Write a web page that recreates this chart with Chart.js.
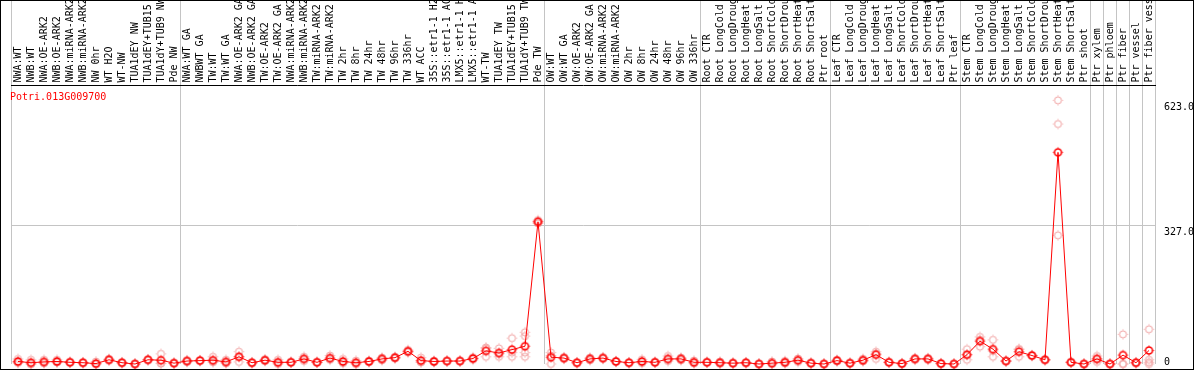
<!DOCTYPE html>
<html lang="en">
<head>
<meta charset="UTF-8">
<title>Potri.013G009700 expression</title>
<script src="https://cdn.jsdelivr.net/npm/chart.js"></script>
<style>
  html, body { margin: 0; padding: 0; background: #fff; }
</style>
</head>
<body>
<canvas id="exprChart" width="1194" height="370"></canvas>
<script>
// gene shown in the plot
const geneName = 'Potri.013G009700';

// sample names, left to right
const samples = [
  'NWA:WT', 'NWB:WT', 'NWA:OE-ARK2', 'NWB:OE-ARK2', 'NWA:miRNA-ARK2', 'NWB:miRNA-ARK2', 'NW 0hr', 'WT H2O', 'WT-NW',
  'TUA1dEY NW', 'TUA1dEY+TUB15 NW', 'TUA1dY+TUB9 NW', 'Pde NW',
  'NWA:WT GA', 'NWBWT GA', 'TW:WT', 'TW:WT GA', 'NWA:OE-ARK2 GA', 'NWB:OE-ARK2 GA', 'TW:OE-ARK2', 'TW:OE-ARK2 GA',
  'NWA:miRNA-ARK2', 'NWB:miRNA-ARK2', 'TW:miRNA-ARK2', 'TW:miRNA-ARK2', 'TW 2hr', 'TW 8hr', 'TW 24hr', 'TW 48hr',
  'TW 96hr', 'TW 336hr', 'WT ACC', '35S::etr1-1 H2O', '35S::etr1-1 ACC', 'LMX5::etr1-1 H2O', 'LMX5::etr1-1 ACC',
  'WT-TW', 'TUA1dEY TW', 'TUA1dEY+TUB15 TW', 'TUA1dY+TUB9 TW', 'Pde TW',
  'OW:WT', 'OW:WT GA', 'OW:OE-ARK2', 'OW:OE-ARK2 GA', 'OW:miRNA-ARK2', 'OW:miRNA-ARK2', 'OW 2hr', 'OW 8hr',
  'OW 24hr', 'OW 48hr', 'OW 96hr', 'OW 336hr',
  'Root CTR', 'Root LongCold', 'Root LongDrought', 'Root LongHeat', 'Root LongSalt', 'Root ShortCold',
  'Root ShortDrought', 'Root ShortHeat', 'Root ShortSalt', 'Ptr root',
  'Leaf CTR', 'Leaf LongCold', 'Leaf LongDrought', 'Leaf LongHeat', 'Leaf LongSalt', 'Leaf ShortCold',
  'Leaf ShortDrought', 'Leaf ShortHeat', 'Leaf ShortSalt', 'Ptr leaf',
  'Stem CTR', 'Stem LongCold', 'Stem LongDrought', 'Stem LongHeat', 'Stem LongSalt', 'Stem ShortCold',
  'Stem ShortDrought', 'Stem ShortHeat', 'Stem ShortSalt', 'Ptr shoot',
  'Ptr xylem', 'Ptr phloem', 'Ptr fiber', 'Ptr vessel', 'Ptr fiber vessel'
];

// mean expression per sample
const meanExpr = [
  6, 3, 5, 6, 4, 3, 1, 10, 3, 0,
  10, 9, 2, 7, 8, 9, 5, 17, 3, 9,
  4, 4, 12, 4, 14, 6, 3, 6, 12, 15,
  30, 8, 6, 7, 7, 13, 31, 26, 34, 42,
  336, 16, 14, 3, 12, 14, 6, 3, 6, 4,
  12, 12, 4, 4, 3, 2, 3, 0, 2, 4,
  9, 2, 0, 8, 2, 9, 22, 4, 1, 12,
  12, 1, 0, 22, 54, 35, 7, 29, 20, 10,
  500, 4, 0, 12, 0, 21, 3, 32
];

// replicate values (null = no replicate)
const rep1 = [
  12, 10, 10, 10, 5, 4, 6, 12, 4, 1,
  11, 24, 3, 9, 9, 17, 10, 29, 4, 11,
  10, 5, 17, 5, 20, 12, 8, 8, 15, 17,
  33, 15, 8, 8, 8, 16, 37, 37, 61, 75,
  340, 27, 16, 4, 15, 16, 7, 4, 11, 5,
  19, 15, 8, 5, 6, 3, 4, 1, 6, 7,
  13, 3, 1, 10, 3, 12, 29, 5, 2, 14,
  14, 2, 1, 35, 57, 57, 8, 35, 21, 11,
  623, 5, 1, 19, 1, 70, 4, 82
];
const rep2 = [
  3, 0, 3, 4, 4, 3, 0, 10, 3, 0,
  10, 2, 2, 7, 8, 6, 3, 17, 3, 9,
  2, 4, 12, 4, 12, 4, 1, 6, 12, 15,
  30, 5, 6, 7, 7, 13, 39, 24, 27, 66,
  336, 20, 14, 3, 12, 14, 6, 3, 5, 4,
  10, 12, 3, 4, 2, 2, 3, 0, 1, 4,
  9, 2, 0, 8, 2, 9, 25, 4, 1, 12,
  12, 1, 0, 22, 64, 31, 7, 35, 20, 10,
  567, 4, 0, 12, 0, 0, 3, 10
];
const rep3 = [
  3, 0, 2, 4, 3, 2, 0, 8, 2, 0,
  9, 1, 1, 5, 7, 4, 2, 5, 2, 7,
  0, 3, 7, 3, 10, 2, 0, 4, 9, 13,
  27, 4, 4, 6, 6, 10, 17, 17, 17, 27,
  332, 0, 12, 2, 9, 12, 5, 2, 2, 3,
  7, 9, 1, 3, 1, 1, 2, 0, 0, 1,
  5, 1, 0, 6, 1, 6, 12, 3, 0, 10,
  10, 0, 0, 10, 41, 17, 6, 17, 19, 9,
  304, 3, 0, 5, 0, 0, 2, 4
];
const rep4 = [
  null, null, null, null, null, null, null, null, null, null,
  null, null, null, null, null, null, null, null, null, null,
  null, null, null, null, null, null, null, null, null, null,
  null, null, null, null, null, null, null, null, null, 17,
  null, null, null, null, null, null, null, null, null, null,
  null, null, null, null, null, null, null, null, null, null,
  null, null, null, null, null, null, null, null, null, null,
  null, null, null, null, null, null, null, null, null, null,
  null, null, null, null, null, null, null, 0
];

// labelled values on the right axis
const yTickValues = [0, 327, 623];
const yTickLabels = ['0', '327.0', '623.0'];

// grid line index where a new tissue group starts
const groupBreaks = [0, 13, 41, 53, 63, 73, 83, 84, 85, 86, 87, 88];

const monoFont = 'DejaVu Sans Mono';
const lineGrey = '#c4c4c4';

// hollow circle with four small nubs, like the original markers
function makeMarker(color, width) {
  const c = document.createElement('canvas');
  c.width = 13;
  c.height = 13;
  const g = c.getContext('2d');
  g.strokeStyle = color;
  g.lineWidth = width;
  g.beginPath();
  g.arc(6.5, 6.5, 3.5, 0, Math.PI * 2);
  g.stroke();
  g.lineWidth = 1;
  g.beginPath();
  g.moveTo(6.5, 1.5); g.lineTo(6.5, 2.5);
  g.moveTo(6.5, 10.5); g.lineTo(6.5, 11.5);
  g.moveTo(1.5, 6.5); g.lineTo(2.5, 6.5);
  g.moveTo(10.5, 6.5); g.lineTo(11.5, 6.5);
  g.stroke();
  return c;
}

const meanMarker = makeMarker('#ff0000', 1.6);
const repMarker = makeMarker('#f0a0a0', 1);

function repDataset(values) {
  return {
    data: values,
    showLine: false,
    pointStyle: repMarker,
    pointRadius: 5,
    borderColor: '#f0a0a0',
    backgroundColor: 'transparent'
  };
}

// frame, gene name and y labels
const decorations = {
  id: 'decorations',
  afterDraw(chart) {
    const ctx = chart.ctx;
    const yScale = chart.scales.y;
    ctx.save();
    ctx.font = '10px "' + monoFont + '"';
    ctx.textAlign = 'left';
    ctx.textBaseline = 'middle';

    ctx.fillStyle = '#ff0000';
    ctx.fillText(geneName, 10, chart.chartArea.top + 12);

    ctx.fillStyle = '#000';
    yTickValues.forEach((v, i) => {
      const py = yScale.getPixelForValue(v);
      // label sits under its line, except at the bottom edge
      const off = py + 10 > chart.chartArea.bottom ? -2 : 7;
      ctx.fillText(yTickLabels[i], yScale.left + 8.5, py + off);
    });

    ctx.strokeStyle = '#000';
    ctx.lineWidth = 1;
    ctx.strokeRect(0.5, 0.5, chart.width - 1, chart.height - 1);
    ctx.restore();
  }
};

const ctx = document.getElementById('exprChart').getContext('2d');
new Chart(ctx, {
  type: 'line',
  data: {
    labels: samples,
    datasets: [
      {
        data: meanExpr,
        borderColor: '#ff0000',
        borderWidth: 1,
        backgroundColor: 'transparent',
        pointStyle: meanMarker,
        pointRadius: 5,
        tension: 0
      },
      repDataset(rep1),
      repDataset(rep2),
      repDataset(rep3),
      repDataset(rep4)
    ]
  },
  options: {
    responsive: false,
    devicePixelRatio: 1,
    animation: false,
    clip: false,
    layout: { padding: { left: 11.5, right: 0, top: 0, bottom: 1.5 } },
    plugins: {
      legend: { display: false },
      tooltip: { enabled: false }
    },
    scales: {
      x: {
        position: 'top',
        offset: true,
        grid: {
          offset: true,
          color: c => (c.index === undefined || groupBreaks.includes(c.index)) ? lineGrey : 'rgba(0,0,0,0)',
          lineWidth: 1,
          drawTicks: true,
          tickLength: 85
        },
        border: { display: true, color: '#000', width: 1 },
        ticks: {
          autoSkip: false,
          minRotation: 90,
          maxRotation: 90,
          padding: -82,
          labelOffset: 12,
          color: '#000',
          font: { family: monoFont, size: 10, lineHeight: 1.2 }
        },
        afterFit: s => { s.height = 85.5; }
      },
      y: {
        position: 'right',
        min: 0,
        max: 658,
        afterBuildTicks: s => { s.ticks = yTickValues.map(v => ({ value: v })); },
        grid: {
          color: c => (c.tick && c.tick.value === 327) ? lineGrey : 'rgba(0,0,0,0)',
          drawTicks: false
        },
        border: { display: false },
        ticks: { display: false },
        afterFit: s => { s.width = 38.5; }
      }
    }
  },
  plugins: [decorations]
});
</script>
</body>
</html>
